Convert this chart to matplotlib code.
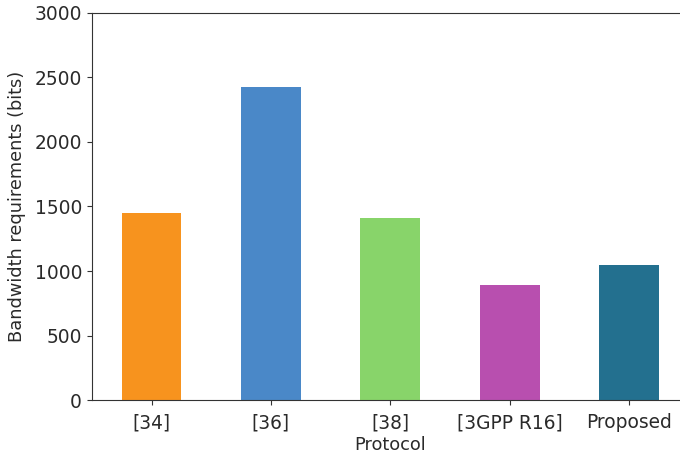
import matplotlib
matplotlib.use("Agg")
import matplotlib.pyplot as plt

protocols = ["[34]", "[36]", "[38]", "[3GPP R16]", "Proposed"]
bandwidth_bits = [1450, 2430, 1410, 890, 1050]
bar_colors = ["#F7931E", "#4A88C8", "#88D46A", "#B84FAF", "#23708F"]
y_ticks = [0, 500, 1000, 1500, 2000, 2500, 3000]

fig = plt.figure(figsize=(6.8, 4.57), dpi=100)
ax = fig.add_axes([0.135, 0.1247, 1.013 - 0.135, 0.9716 - 0.1247])

x = range(len(protocols))
ax.bar(x, bandwidth_bits, width=0.5, color=bar_colors)
ax.set_xlim(-0.5, len(protocols) - 0.5)
ax.set_ylim(0, 3000)
ax.set_yticks(y_ticks)
ax.set_xticks(list(x))
ax.set_xticklabels(protocols)
ax.tick_params(labelsize=13.4, colors="#333333", labelcolor="#2a2a2a")
ax.tick_params(axis="x", pad=6)
ax.set_xlabel("Protocol", fontsize=12.8, labelpad=3, color="#2a2a2a")
ax.set_ylabel("Bandwidth requirements (bits)", fontsize=12.8, labelpad=6, color="#2a2a2a")
ax.spines["right"].set_visible(False)
for s in ax.spines.values():
    s.set_color("#333333")

fig.savefig("out.png", dpi=100)
